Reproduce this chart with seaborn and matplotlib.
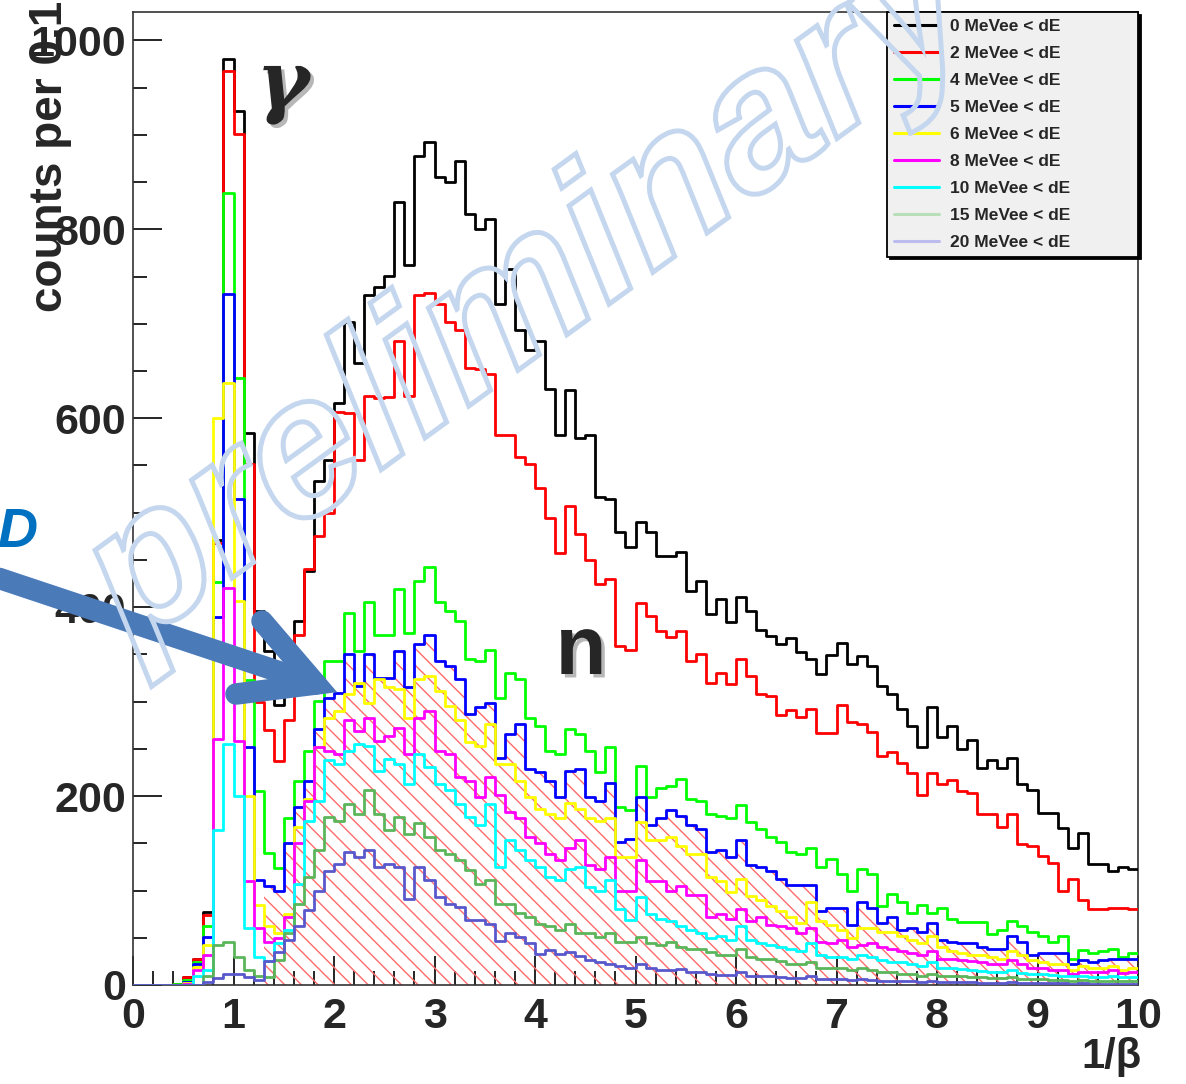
import numpy as np
import pandas as pd
import matplotlib
matplotlib.use("Agg")
import matplotlib.pyplot as plt
import seaborn as sns
from matplotlib.lines import Line2D
from matplotlib.patches import PathPatch
from matplotlib.textpath import TextPath
from matplotlib.font_manager import FontProperties
from matplotlib.transforms import Affine2D
import matplotlib.patheffects as pe

# 1/beta binning: 100 bins of 0.1
bin_edges = np.linspace(0.0, 10.0, 101)

series_labels = ["0 MeVee < dE", "2 MeVee < dE", "4 MeVee < dE", "5 MeVee < dE",
                 "6 MeVee < dE", "8 MeVee < dE", "10 MeVee < dE", "15 MeVee < dE",
                 "20 MeVee < dE"]
series_colors = ["#000000", "#ff0000", "#00ff00", "#0000ff", "#ffff00",
                 "#ff00ff", "#00ffff", "#5bb55b", "#5858cc"]
legend_colors = ["#000000", "#ff0000", "#00ff00", "#0000ff", "#ffff00",
                 "#ff00ff", "#00ffff", "#b9dfb9", "#bcbcee"]

counts_0 = [0, 0, 0, 0, 1, 8, 28, 77, 471, 980,
            925, 584, 396, 354, 296, 330, 385, 438, 533, 556,
            616, 702, 658, 730, 739, 751, 829, 762, 878, 892,
            855, 850, 872, 816, 800, 811, 721, 758, 693, 672,
            682, 631, 582, 630, 579, 582, 517, 514, 480, 464,
            490, 480, 454, 454, 458, 417, 428, 393, 409, 384,
            411, 396, 376, 369, 361, 367, 353, 345, 329, 349,
            362, 340, 348, 338, 316, 308, 292, 274, 252, 294,
            263, 274, 250, 259, 230, 238, 230, 240, 213, 206,
            182, 182, 166, 145, 161, 128, 128, 121, 125, 123]
counts_2 = [0, 0, 0, 0, 1, 8, 27, 74, 468, 968,
            901, 552, 300, 270, 237, 280, 371, 440, 475, 500,
            607, 605, 556, 624, 621, 622, 682, 624, 730, 733,
            721, 702, 693, 653, 652, 647, 582, 582, 559, 552,
            526, 494, 457, 507, 477, 450, 424, 430, 359, 355,
            404, 391, 375, 368, 375, 343, 350, 320, 330, 319,
            345, 327, 308, 306, 286, 291, 284, 292, 267, 267,
            296, 278, 276, 268, 242, 247, 235, 224, 201, 224,
            213, 217, 205, 203, 181, 181, 167, 181, 149, 147,
            137, 129, 100, 112, 90, 80, 80, 82, 82, 80]
counts_4 = [0, 0, 0, 0, 1, 5, 24, 62, 427, 838,
            643, 323, 205, 140, 124, 177, 216, 248, 301, 343,
            343, 394, 354, 405, 371, 371, 419, 373, 428, 442,
            405, 396, 385, 345, 343, 355, 304, 330, 324, 283,
            274, 248, 245, 271, 266, 248, 225, 252, 188, 185,
            232, 199, 209, 211, 218, 197, 195, 181, 179, 177,
            191, 173, 165, 157, 151, 141, 139, 145, 125, 133,
            117, 100, 123, 117, 84, 96, 88, 76, 85, 76,
            82, 70, 67, 67, 67, 54, 58, 68, 62, 56,
            52, 46, 52, 28, 37, 34, 36, 38, 30, 34]
counts_5 = [0, 0, 0, 0, 0, 3, 22, 51, 390, 731,
            515, 252, 111, 105, 100, 150, 188, 216, 271, 304,
            309, 350, 316, 350, 325, 325, 354, 315, 361, 370,
            343, 338, 324, 287, 294, 299, 240, 266, 276, 229,
            225, 216, 199, 227, 229, 199, 195, 214, 151, 155,
            199, 169, 177, 185, 179, 169, 165, 141, 143, 135,
            153, 127, 125, 121, 112, 106, 106, 106, 78, 82,
            82, 64, 88, 82, 66, 72, 58, 60, 56, 66,
            48, 46, 44, 44, 40, 38, 38, 52, 46, 32,
            34, 34, 34, 22, 26, 24, 26, 28, 27, 28]
counts_6 = [0, 0, 0, 0, 0, 2, 19, 42, 600, 637,
            407, 200, 85, 62, 55, 75, 167, 197, 252, 283,
            290, 308, 320, 299, 324, 315, 313, 283, 324, 327,
            311, 295, 281, 257, 253, 276, 234, 234, 216, 199,
            186, 181, 177, 193, 186, 177, 174, 177, 136, 136,
            173, 153, 153, 157, 147, 139, 139, 114, 110, 98,
            112, 94, 90, 84, 78, 72, 66, 88, 68, 64,
            58, 50, 60, 60, 56, 56, 52, 48, 44, 52,
            40, 36, 34, 32, 32, 30, 28, 36, 32, 26,
            24, 22, 22, 16, 20, 18, 18, 20, 16, 18]
counts_8 = [0, 0, 0, 0, 0, 1, 16, 32, 260, 420,
            258, 110, 60, 45, 50, 72, 150, 195, 252, 248,
            245, 280, 269, 283, 258, 264, 272, 245, 283, 290,
            248, 245, 220, 216, 199, 220, 201, 183, 177, 157,
            150, 139, 132, 145, 153, 127, 123, 136, 100, 100,
            132, 110, 110, 100, 105, 95, 95, 72, 75, 70,
            80, 68, 72, 64, 62, 60, 55, 60, 45, 44,
            48, 40, 42, 44, 40, 38, 36, 34, 32, 36,
            28, 28, 26, 25, 24, 22, 22, 26, 22, 18,
            18, 16, 16, 12, 14, 14, 14, 16, 13, 14]
counts_10 = [0, 0, 0, 0, 0, 0, 9, 16, 164, 255,
             200, 60, 30, 25, 44, 58, 107, 174, 195, 238,
             234, 248, 255, 253, 227, 239, 234, 213, 245, 231,
             213, 206, 192, 178, 169, 192, 125, 153, 143, 132,
             125, 114, 111, 123, 125, 104, 100, 111, 80, 69,
             93, 75, 70, 68, 62, 58, 55, 50, 52, 48,
             62, 48, 44, 42, 40, 38, 36, 44, 32, 30,
             30, 28, 32, 30, 26, 24, 24, 22, 20, 24,
             18, 18, 17, 16, 15, 14, 14, 16, 13, 12,
             12, 11, 10, 9, 9, 8, 8, 9, 8, 8]
counts_15 = [0, 0, 0, 0, 0, 0, 0, 9, 42, 45,
             30, 16, 10, 8, 26, 55, 86, 114, 143, 178,
             174, 192, 181, 206, 181, 164, 178, 160, 171, 157,
             143, 139, 132, 122, 107, 111, 86, 86, 76, 72,
             65, 62, 58, 65, 55, 55, 51, 55, 46, 46,
             51, 44, 42, 45, 40, 38, 38, 35, 32, 32,
             38, 30, 28, 28, 25, 22, 22, 24, 18, 18,
             18, 16, 18, 16, 14, 14, 12, 12, 10, 12,
             10, 9, 9, 8, 8, 7, 7, 8, 6, 6,
             6, 5, 5, 4, 5, 4, 4, 4, 4, 4]
counts_20 = [0, 0, 0, 0, 0, 0, 0, 3, 7, 12,
             12, 8, 5, 25, 35, 48, 62, 79, 100, 121,
             128, 141, 136, 143, 125, 128, 125, 91, 125, 111,
             93, 86, 83, 69, 69, 65, 47, 55, 51, 44,
             33, 37, 33, 35, 31, 26, 24, 22, 20, 18,
             22, 18, 16, 16, 17, 14, 14, 12, 11, 11,
             14, 10, 9, 9, 8, 7, 7, 9, 6, 6,
             6, 5, 6, 5, 4, 4, 4, 4, 3, 4,
             3, 3, 3, 3, 2, 2, 2, 3, 2, 2,
             2, 2, 2, 1, 2, 1, 1, 1, 1, 1]

all_counts = [counts_0, counts_2, counts_4, counts_5, counts_6,
              counts_8, counts_10, counts_15, counts_20]

# neutron band of the 5 MeVee selection is shaded from 1/beta = 1.3 on
hatch_start_bin = 13

x_ticks = list(range(0, 11))
y_ticks = [0, 200, 400, 600, 800, 1000]

W, H, DPI = 1186, 1084, 100

sns.set_theme(style="white")
plt.rcParams["font.family"] = ["Liberation Sans", "DejaVu Sans"]
plt.rcParams["font.weight"] = "bold"
plt.rcParams["hatch.linewidth"] = 1.0

fig = plt.figure(figsize=(W / DPI, H / DPI), dpi=DPI)
fig.patch.set_facecolor("white")
ax = fig.add_axes([133 / W, (H - 985) / H, (1138 - 133) / W, (985 - 12) / H])
ax.set_facecolor("white")

centers = bin_edges[:-1] + 0.05
edge_list = [float(e) for e in bin_edges]

# hatched neutron region under the 5 MeVee spectrum
ax.stairs(np.array(counts_5[hatch_start_bin:], dtype=float),
          bin_edges[hatch_start_bin:], baseline=0, fill=True,
          facecolor="none", edgecolor="#ff6a6a", linewidth=0,
          hatch="\\\\", zorder=1)

for vals, col in zip(all_counts, series_colors):
    frame = pd.DataFrame({"inv_beta": centers, "counts": vals})
    sns.histplot(data=frame, x="inv_beta", weights="counts", bins=edge_list,
                 element="step", fill=False, color=col, linewidth=2.0,
                 ax=ax, zorder=3)

ax.set_xlim(0, 10)
ax.set_ylim(0, 1030)
ax.set_xlabel("")
ax.set_ylabel("")
ax.set_xticks(x_ticks)
ax.set_xticks(np.arange(0, 10.01, 0.2), minor=True)
ax.set_yticks(y_ticks)
ax.set_yticks(np.arange(0, 1030, 50), minor=True)
ax.set_xticklabels([str(t) for t in x_ticks])
ax.set_yticklabels([str(t) for t in y_ticks])
ax.tick_params(which="major", direction="in", length=21, width=1.2,
               color="black", labelsize=31, top=False, right=False,
               bottom=True, left=True)
ax.tick_params(which="minor", direction="in", length=10, width=1.2,
               color="black", top=False, right=False, bottom=True, left=True)
ax.tick_params(axis="x", which="major", pad=9)
ax.tick_params(axis="y", which="major", pad=5)
for lab in ax.get_xticklabels() + ax.get_yticklabels():
    lab.set_fontweight("bold")
for sp in ax.spines.values():
    sp.set_color("#333333")
    sp.set_linewidth(1.2)

# legend box
handles = [Line2D([0], [0], color=c, lw=2.2) for c in legend_colors]
leg = ax.legend(handles, series_labels, loc="upper left",
                bbox_to_anchor=(887 / W, (H - 256) / H, (1138 - 887) / W, (256 - 12) / H),
                bbox_transform=fig.transFigure, mode="expand", borderaxespad=0,
                prop={"weight": "bold", "size": 12.5}, handlelength=2.6,
                handletextpad=0.65, labelspacing=0.68, borderpad=0.4,
                fancybox=False, framealpha=1, facecolor="#f0f0f0",
                edgecolor="black", shadow={"color": "black", "alpha": 1.0})
leg.get_frame().set_linewidth(1.3)
leg.set_zorder(10)

# axis titles
fig.text(50 / W, (H - 312) / H, "counts per 0.1", rotation=90, ha="center",
         va="bottom", fontsize=33, fontweight="bold")
fig.text(1141 / W, (H - 1057) / H, "1/\u03b2", ha="right", va="center",
         fontsize=30, fontweight="bold")

# peak annotations
shadow = [pe.withSimplePatchShadow(offset=(2.5, -2.5), shadow_rgbFace="#888888", alpha=0.6)]
fig.text(283 / W, (H - 86) / H, "\u03b3", ha="center", va="center",
         fontsize=58, fontstyle="italic", fontweight="bold",
         family=["DejaVu Serif", "Liberation Serif"], path_effects=shadow)
fig.text(581 / W, (H - 652) / H, "n", ha="center", va="center",
         fontsize=60, fontweight="bold", path_effects=shadow)

# pointer arrow from the left margin
arrow_col = "#4a7ab8"
px2fig = lambda x, y: (x / W, (H - y) / H)
shaft = [px2fig(-20, 572), px2fig(316, 684)]
fig.add_artist(Line2D([p[0] for p in shaft], [p[1] for p in shaft],
                      transform=fig.transFigure, color=arrow_col, lw=15.5,
                      solid_capstyle="round", zorder=15))
head = [px2fig(262, 621), px2fig(316, 684), px2fig(236, 694)]
fig.add_artist(Line2D([p[0] for p in head], [p[1] for p in head],
                      transform=fig.transFigure, color=arrow_col, lw=15.5,
                      solid_capstyle="round", solid_joinstyle="miter", zorder=15))
fig.text(37 / W, (H - 533) / H, "D", ha="right", va="center", fontsize=40,
         fontweight="bold", fontstyle="italic", color="#0070c0", zorder=16)

# outlined watermark
fp = FontProperties(family="Liberation Sans", style="italic")
tp = TextPath((0, 0), "preliminary", size=195, prop=fp)
tr = (Affine2D().skew_deg(3, 0).rotate_deg(36).translate(133, H - 650)
      .scale(1 / DPI) + fig.dpi_scale_trans)
fig.add_artist(PathPatch(tp, transform=tr, facecolor="none", edgecolor="#c4d7ee",
                         lw=3.6, zorder=20))

fig.savefig("out.png", dpi=DPI, facecolor="white")
